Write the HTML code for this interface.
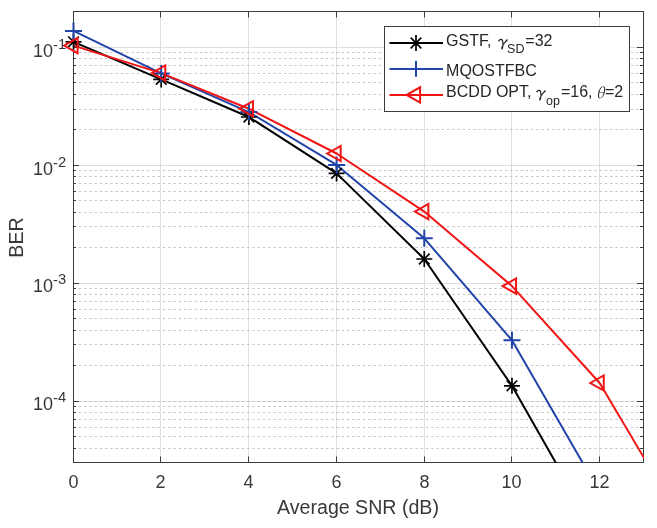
<!DOCTYPE html>
<html><head><meta charset="utf-8"><style>
html,body{margin:0;padding:0;background:#fff;width:657px;height:528px;overflow:hidden}
svg{display:block}
</style></head><body>
<svg width="657" height="528" viewBox="0 0 657 528">
<rect width="657" height="528" fill="#fff"/>
<defs><clipPath id="c"><rect x="73" y="11" width="571" height="452"/></clipPath></defs>
<path d="M160.5,12V462 M248.5,12V462 M336.5,12V462 M424.5,12V462 M511.5,12V462 M599.5,12V462 M74,47.5H643 M74,165.5H643 M74,283.5H643 M74,401.5H643" stroke="#dfdfdf" stroke-width="1" fill="none"/>
<path d="M74,52.5H643 M74,58.5H643 M74,65.5H643 M74,73.5H643 M74,82.5H643 M74,94.5H643 M74,109.5H643 M74,129.5H643 M74,170.5H643 M74,176.5H643 M74,183.5H643 M74,191.5H643 M74,200.5H643 M74,212.5H643 M74,226.5H643 M74,247.5H643 M74,288.5H643 M74,294.5H643 M74,301.5H643 M74,309.5H643 M74,318.5H643 M74,330.5H643 M74,344.5H643 M74,365.5H643 M74,406.5H643 M74,412.5H643 M74,419.5H643 M74,427.5H643 M74,436.5H643 M74,448.5H643 M74,401.5H643" stroke="#c4c4c4" stroke-width="1" stroke-dasharray="2.3 2.96" stroke-dashoffset="0.46" fill="none"/>
<path d="M160.5,462V456.5 M160.5,12V17.5 M248.5,462V456.5 M248.5,12V17.5 M336.5,462V456.5 M336.5,12V17.5 M424.5,462V456.5 M424.5,12V17.5 M511.5,462V456.5 M511.5,12V17.5 M599.5,462V456.5 M599.5,12V17.5 M73,47.5H79 M643,47.5H637 M73,165.5H79 M643,165.5H637 M73,283.5H79 M643,283.5H637 M73,401.5H79 M643,401.5H637 M73,52.5H76 M643,52.5H640 M73,58.5H76 M643,58.5H640 M73,65.5H76 M643,65.5H640 M73,73.5H76 M643,73.5H640 M73,82.5H76 M643,82.5H640 M73,94.5H76 M643,94.5H640 M73,109.5H76 M643,109.5H640 M73,129.5H76 M643,129.5H640 M73,170.5H76 M643,170.5H640 M73,176.5H76 M643,176.5H640 M73,183.5H76 M643,183.5H640 M73,191.5H76 M643,191.5H640 M73,200.5H76 M643,200.5H640 M73,212.5H76 M643,212.5H640 M73,226.5H76 M643,226.5H640 M73,247.5H76 M643,247.5H640 M73,288.5H76 M643,288.5H640 M73,294.5H76 M643,294.5H640 M73,301.5H76 M643,301.5H640 M73,309.5H76 M643,309.5H640 M73,318.5H76 M643,318.5H640 M73,330.5H76 M643,330.5H640 M73,344.5H76 M643,344.5H640 M73,365.5H76 M643,365.5H640 M73,406.5H76 M643,406.5H640 M73,412.5H76 M643,412.5H640 M73,419.5H76 M643,419.5H640 M73,427.5H76 M643,427.5H640 M73,436.5H76 M643,436.5H640 M73,448.5H76 M643,448.5H640" stroke="#3c3c3c" stroke-width="1" fill="none"/>
<rect x="73.5" y="11.5" width="570" height="451" stroke="#3c3c3c" stroke-width="1" fill="none"/>
<g clip-path="url(#c)" fill="none" stroke-width="2" stroke-linejoin="round">
<polyline points="73.5,41.8 161.19,79.4 248.88,117.0 336.58,173.4 424.27,259.0 511.96,385.8 599.65,539.8" stroke="#000"/>
<polyline points="73.5,30.9 161.19,73.4 248.88,112.1 336.58,164.9 424.27,238.3 511.96,340.2 599.65,492.2" stroke="#2144a8"/>
<polyline points="73.5,45.6 161.19,73.1 248.88,108.7 336.58,153.5 424.27,211.6 511.96,286.1 599.65,383.0 687.34,531.0" stroke="#f01414"/>
</g>
<path d="M65.5,41.8H81.5 M73.5,33.8V49.8 M68.2,36.5L78.8,47.1 M68.2,47.1L78.8,36.5 M153.19,79.4H169.19 M161.19,71.4V87.4 M155.89,74.1L166.49,84.7 M155.89,84.7L166.49,74.1 M240.88,117H256.88 M248.88,109V125 M243.58,111.7L254.18,122.3 M243.58,122.3L254.18,111.7 M328.58,173.4H344.58 M336.58,165.4V181.4 M331.28,168.1L341.88,178.7 M331.28,178.7L341.88,168.1 M416.27,259H432.27 M424.27,251V267 M418.97,253.7L429.57,264.3 M418.97,264.3L429.57,253.7 M503.96,385.8H519.96 M511.96,377.8V393.8 M506.66,380.5L517.26,391.1 M506.66,391.1L517.26,380.5" stroke="#000" stroke-width="1.7" fill="none"/>
<path d="M65,30.9H82 M73.5,22.4V39.4 M152.69,73.4H169.69 M161.19,64.9V81.9 M240.38,112.1H257.38 M248.88,103.6V120.6 M328.08,164.9H345.08 M336.58,156.4V173.4 M415.77,238.3H432.77 M424.27,229.8V246.8 M503.46,340.2H520.46 M511.96,331.7V348.7" stroke="#2144a8" stroke-width="2" fill="none"/>
<path d="M64.12,45.6 L77.59,38 L77.59,53.2 Z M151.81,73.1 L165.28,65.5 L165.28,80.7 Z M239.50,108.7 L252.97,101.1 L252.97,116.3 Z M327.20,153.5 L340.67,145.9 L340.67,161.1 Z M414.89,211.6 L428.36,204 L428.36,219.2 Z M502.58,286.1 L516.05,278.5 L516.05,293.7 Z M590.27,383 L603.74,375.4 L603.74,390.6 Z" stroke="#f01414" stroke-width="2" fill="none" stroke-linejoin="miter"/>
<g font-family="'Liberation Sans', Arial, Helvetica, sans-serif" fill="#383838">
<text x="73.5" y="488" font-size="18" text-anchor="middle">0</text>
<text x="160.5" y="488" font-size="18" text-anchor="middle">2</text>
<text x="248.5" y="488" font-size="18" text-anchor="middle">4</text>
<text x="336.5" y="488" font-size="18" text-anchor="middle">6</text>
<text x="424.5" y="488" font-size="18" text-anchor="middle">8</text>
<text x="511.5" y="488" font-size="18" text-anchor="middle">10</text>
<text x="599.5" y="488" font-size="18" text-anchor="middle">12</text>
<text x="53" y="57.1" font-size="18" text-anchor="end">10</text>
<text x="53" y="49.1" font-size="14.8"><tspan dy="1.1">-</tspan><tspan dy="-1.1">1</tspan></text>
<text x="53" y="174.9" font-size="18" text-anchor="end">10</text>
<text x="53" y="166.9" font-size="14.8"><tspan dy="1.1">-</tspan><tspan dy="-1.1">2</tspan></text>
<text x="53" y="292.0" font-size="18" text-anchor="end">10</text>
<text x="53" y="284.0" font-size="14.8"><tspan dy="1.1">-</tspan><tspan dy="-1.1">3</tspan></text>
<text x="53" y="410.0" font-size="18" text-anchor="end">10</text>
<text x="53" y="402.0" font-size="14.8"><tspan dy="1.1">-</tspan><tspan dy="-1.1">4</tspan></text>
<text x="358" y="514" font-size="19.6" text-anchor="middle">Average SNR (dB)</text>
<text transform="translate(23,237.5) rotate(-90)" font-size="19.6" text-anchor="middle">BER</text>
</g>
<rect x="384.5" y="26.5" width="245" height="85" fill="#fff" stroke="#3c3c3c" stroke-width="1"/>
<path d="M389.5,43.0H443" stroke="#000" stroke-width="2"/>
<path d="M408,43H424 M416,35V51 M410.7,37.7L421.3,48.3 M410.7,48.3L421.3,37.7" stroke="#000" stroke-width="1.7"/>
<path d="M389.5,68.9H443" stroke="#2144a8" stroke-width="2"/>
<path d="M408.2,68.9H423.8 M416,61.1V76.7" stroke="#2144a8" stroke-width="2"/>
<path d="M389.5,94.9H443" stroke="#f01414" stroke-width="2"/>
<path d="M406.62,94.9 L420.09,87.3 L420.09,102.5 Z" stroke="#f01414" stroke-width="2" fill="none"/>
<g font-family="'Liberation Sans', Arial, Helvetica, sans-serif" font-size="16" fill="#262626" transform="translate(-0.9,0)">
<text y="45.5"><tspan x="447">GSTF,</tspan><tspan x="495.4" y="47.5" font-family="IPAGothic, 'Liberation Serif', serif" font-size="17">γ</tspan><tspan x="508" y="53.4" font-size="12.5">SD</tspan><tspan x="526.2" y="45.5">=32</tspan></text>
<text x="447" y="75.5">MQOSTFBC</text>
<text y="96.7"><tspan x="447">BCDD OPT,</tspan><tspan x="533.5" y="98.7" font-family="IPAGothic, 'Liberation Serif', serif" font-size="17">γ</tspan><tspan x="547" y="104.6" font-size="12.5">op</tspan><tspan x="561.8" y="96.7">=16,</tspan><tspan x="597.2" y="97.6" font-family="'Noto Serif CJK SC', 'Liberation Serif', serif" font-style="italic" font-size="14.3">θ</tspan><tspan x="605.8" y="96.7">=2</tspan></text>
</g>
</svg>
</body></html>
